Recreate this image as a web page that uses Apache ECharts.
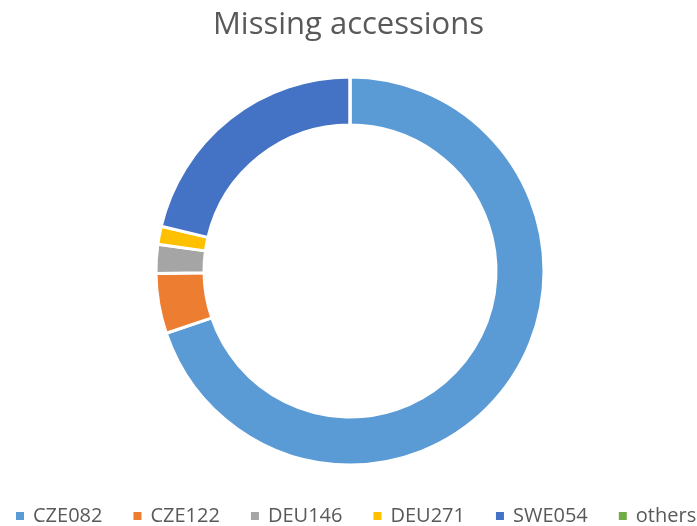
<!DOCTYPE html>
<html>
<head>
<meta charset="utf-8">
<script src="https://cdn.jsdelivr.net/npm/echarts@6/dist/echarts.min.js"></script>
<style>
  html, body { margin: 0; padding: 0; background: #fff; }
  #chart { width: 697px; height: 526px; }
</style>
</head>
<body>
<div id="chart"></div>
<script>
const categories = ['CZE082', 'CZE122', 'DEU146', 'DEU271', 'SWE054', 'others'];
const values = [69.8, 5.0, 2.4, 1.5, 21.3, 0];
const colors = ['#5B9BD5', '#ED7D31', '#A5A5A5', '#FFC000', '#4472C4', '#70AD47'];

const chartDom = echarts.init(document.getElementById('chart'));

const pieData = [];
for (let i = 0; i < categories.length; i++) {
  pieData.push({ name: categories[i], value: values[i] });
}

const option = {
  color: colors,
  animation: false,
  title: {
    text: 'Missing accessions',
    left: 'center',
    top: 5,
    textStyle: {
      color: '#595959',
      fontFamily: 'Open Sans',
      fontWeight: 'normal',
      fontSize: 31
    }
  },
  legend: {
    data: categories,
    bottom: 0,
    left: 16,
    width: 690,
    padding: [0, 0],
    icon: 'rect',
    itemWidth: 8,
    itemHeight: 8,
    itemGap: 31,
    selectedMode: false,
    itemStyle: {
      borderWidth: 0
    },
    textStyle: {
      color: '#595959',
      fontFamily: 'Open Sans',
      fontSize: 20,
      padding: [0, 0, 0, 4]
    }
  },
  series: [{
    type: 'pie',
    center: [350, 271],
    radius: [146, 194],
    startAngle: 90,
    clockwise: true,
    label: { show: false },
    labelLine: { show: false },
    itemStyle: {
      borderColor: '#ffffff',
      borderWidth: 3
    },
    data: pieData
  }]
};

chartDom.setOption(option);
</script>
</body>
</html>
